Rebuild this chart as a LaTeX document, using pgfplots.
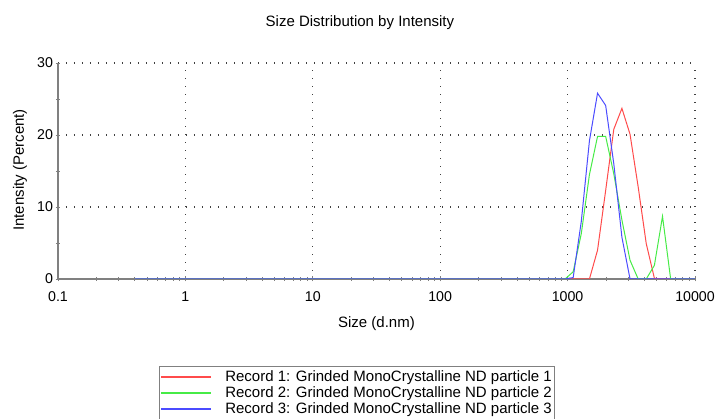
\documentclass[border=0pt]{standalone}
\usepackage{pgfplots}
\pgfplotsset{compat=1.18}
\usepackage{fontspec}
\setmainfont{Liberation Sans}
\definecolor{cR}{RGB}{255,75,75}
\definecolor{cG}{RGB}{70,235,70}
\definecolor{cB}{RGB}{75,75,255}
\definecolor{axgray}{RGB}{128,128,128}
\pgfplotstableread{
x r g b
0.4 0 0 0
0.4632 0 0 0
0.5365 0 0 0
0.6213 0 0 0
0.7195 0 0 0
0.8332 0 0 0
0.9649 0 0 0
1.117 0 0 0
1.294 0 0 0
1.499 0 0 0
1.736 0 0 0
2.010 0 0 0
2.328 0 0 0
2.696 0 0 0
3.122 0 0 0
3.615 0 0 0
4.187 0 0 0
4.849 0 0 0
5.615 0 0 0
6.503 0 0 0
7.531 0 0 0
8.721 0 0 0
10.10 0 0 0
11.70 0 0 0
13.54 0 0 0
15.69 0 0 0
18.17 0 0 0
21.04 0 0 0
24.36 0 0 0
28.21 0 0 0
32.67 0 0 0
37.84 0 0 0
43.82 0 0 0
50.75 0 0 0
58.77 0 0 0
68.06 0 0 0
78.82 0 0 0
91.28 0 0 0
105.7 0 0 0
122.4 0 0 0
141.8 0 0 0
164.2 0 0 0
190.1 0 0 0
220.2 0 0 0
255.0 0 0 0
295.3 0 0 0
342.0 0 0 0
396.1 0 0 0
458.7 0 0 0
531.2 0 0 0
615.1 0 0 0
712.4 0 0 0
825.0 0 0 0
955.4 0 0 0
1106 0 1.0 0.2
1281 0 6.3 8.0
1484 0 14.5 19.2
1718 4.0 19.8 25.8
1990 12.3 19.8 24.1
2305 20.8 14.6 16.0
2669 23.7 8.2 5.8
3091 20.1 2.6 0
3580 12.8 0 0
4145 4.9 0 0
4801 0.1 1.9 0
5560 0 8.7 0
6439 0 0 0
7456 0 0 0
8635 0 0 0
10000 0 0 0
}\sizedata
\begin{document}
\begin{tikzpicture}[x=1pt,y=1pt]
\useasboundingbox (0,0) rectangle (717,419);
\begin{axis}[
  at={(58pt,140pt)}, anchor=south west,
  scale only axis, width=637pt, height=216pt,
  xmode=log, log basis x=10,
  xmin=0.1, xmax=10000, ymin=0, ymax=30,
  xtick={0.1,1,10,100,1000,10000},
  xticklabels={0.1,1,10,100,1000,10000},
  minor xtick={0.2,0.3,0.4,0.5,0.6,0.7,0.8,0.9,2,3,4,5,6,7,8,9,20,30,40,50,60,70,80,90,200,300,400,500,600,700,800,900,2000,3000,4000,5000,6000,7000,8000,9000},
  ytick={0,10,20,30}, minor ytick={5,15,25},
  /pgf/number format/assume math mode=true,
  axis x line*=bottom, axis y line*=left,
  axis line style={axgray, line width=1.3pt, -},
  tick align=center,
  major tick length=5pt, minor tick length=4pt,
  every tick/.style={axgray, line width=0.7pt},
  xmajorgrids, ymajorgrids,
  major grid style={black!75, line width=1.1pt, dash pattern=on 1.1pt off 6.9pt},
  tick label style={font=\fontsize{14.2}{16}\selectfont},
  xticklabel style={yshift=-7pt},
  yticklabel style={xshift=1pt},
  title={Size Distribution by Intensity},
  title style={font=\fontsize{15}{17}\selectfont, at={(0.474,1.157)}, anchor=center, yshift=0pt},
  xlabel={Size (d.nm)},
  xlabel style={font=\fontsize{15}{17}\selectfont, at={(0.5,-0.208)}, anchor=center},
  ylabel={Intensity (Percent)},
  ylabel style={font=\fontsize{15}{17}\selectfont, at={(-0.0597,0.505)}, anchor=center},
  legend style={at={(0.1586,-0.4028)}, anchor=north west,
    draw=axgray, line width=0.8pt, inner xsep=1pt, inner ysep=3pt,
    font=\fontsize{15}{16.5}\selectfont,
    nodes={inner sep=1.5pt}, row sep=0.5pt},
  legend cell align=left,
  legend image code/.code={\draw[#1, line width=1.4pt] (0pt,0pt) -- (50pt,0pt);},
]
\addplot[color=cR, line width=1pt] table[x=x, y=r] {\sizedata};
\addlegendentry{\hspace{12pt}Record 1: Grinded MonoCrystalline ND particle 1\hspace{6pt}}
\addplot[color=cG, line width=1pt] table[x=x, y=g] {\sizedata};
\addlegendentry{\hspace{12pt}Record 2: Grinded MonoCrystalline ND particle 2\hspace{6pt}}
\addplot[color=cB, line width=1pt] table[x=x, y=b] {\sizedata};
\addlegendentry{\hspace{12pt}Record 3: Grinded MonoCrystalline ND particle 3\hspace{6pt}}
\end{axis}
\end{tikzpicture}
\end{document}
